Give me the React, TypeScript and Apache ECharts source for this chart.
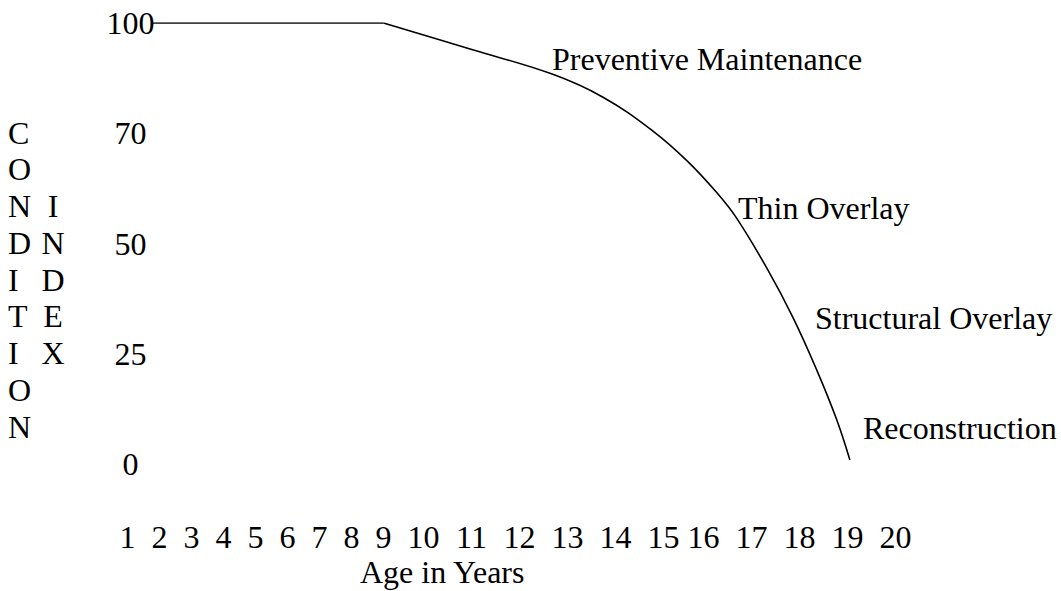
import React, { useEffect, useRef } from "react";
import * as echarts from "echarts";

// ---- data ----
const AGES = [1, 2, 3, 4, 5, 6, 7, 8, 9, 10, 11, 12, 13, 14, 15, 16, 17, 18, 19, 20];
const CONDITION_TICKS = [0, 25, 50, 70, 100];

const FLAT_AGE = [1.8, 9];
const FLAT_CONDITION = [100, 100];

const CURVE_AGE = [9, 10.97, 12.68, 13.74, 14.78, 15.59, 16.28, 16.69, 17.32, 17.87, 18.36, 18.77, 19.05];
const CURVE_CONDITION = [100, 92.9, 86.1, 79.8, 70.6, 65.0, 59.2, 54.6, 44.4, 33.1, 21.3, 10.2, 0.9];

const TREATMENTS = ["Preventive Maintenance", "Thin Overlay", "Structural Overlay", "Reconstruction"];
const Y_TITLE = "CONDITION";
const Y_TITLE_2 = "INDEX";
const X_TITLE = "Age in Years";

// ---- layout (not data): label centres along the age axis, in em, as typed with spaces ----
const AGE_LABEL_EM = [0, 1, 2, 3, 4, 5, 6, 7, 8, 9.25, 10.75, 12.25, 13.75, 15.25, 16.75, 18, 19.5, 21, 22.5, 24];
const TREATMENT_POS = [
  [552, 58.5],
  [738, 207.5],
  [815, 317.5],
  [863, 427.5],
];

const FONT = '"Liberation Serif", "Times New Roman", serif';
const FS = 32;
const ROW = 36.75;

function interp(v: number, from: number[], to: number[]): number {
  if (v <= from[0]) {
    const k = (to[1] - to[0]) / (from[1] - from[0]);
    return to[0] + (v - from[0]) * k;
  }
  for (let i = 0; i < from.length - 1; i++) {
    if (v >= from[i] && v <= from[i + 1]) {
      const t = (v - from[i]) / (from[i + 1] - from[i]);
      return to[i] + t * (to[i + 1] - to[i]);
    }
  }
  const n = from.length - 1;
  const k = (to[n] - to[n - 1]) / (from[n] - from[n - 1]);
  return to[n] + (v - from[n]) * k;
}

const COND_SLOTS = CONDITION_TICKS.map((_, i) => i);
const ageToAxis = (a: number) => interp(a, AGES, AGE_LABEL_EM);
const condToAxis = (c: number) => interp(c, CONDITION_TICKS, COND_SLOTS);

export default function App() {
  const ref = useRef<HTMLDivElement>(null);

  useEffect(() => {
    if (!ref.current) return;
    const chart = echarts.init(ref.current, null, { renderer: "svg" });

    const flat = FLAT_AGE.map((a, i) => [ageToAxis(a), condToAxis(FLAT_CONDITION[i])]);
    const curve = CURVE_AGE.map((a, i) => [ageToAxis(a), condToAxis(CURVE_CONDITION[i])]);

    const textStyle = { fontFamily: FONT, fontSize: FS, color: "#000" };

    const option: any = {
      animation: false,
      backgroundColor: "#fff",
      grid: { left: 127.5, top: 23, width: 768, height: 441, containLabel: false },
      xAxis: {
        type: "value",
        min: 0,
        max: 24,
        axisLine: { show: false },
        axisTick: { show: false },
        splitLine: { show: false },
        axisLabel: {
          customValues: AGE_LABEL_EM,
          ...textStyle,
          margin: 73,
          verticalAlign: "middle",
          hideOverlap: false,
          formatter: (v: number) => {
            const i = AGE_LABEL_EM.findIndex((e) => Math.abs(e - v) < 1e-6);
            return i >= 0 ? String(AGES[i]) : "";
          },
        },
      },
      yAxis: {
        type: "value",
        min: 0,
        max: CONDITION_TICKS.length - 1,
        interval: 1,
        axisLine: { show: false },
        axisTick: { show: false },
        splitLine: { show: false },
        axisLabel: {
          ...textStyle,
          align: "center",
          margin: -3,
          formatter: (v: number) => String(CONDITION_TICKS[Math.round(v)]),
        },
      },
      series: [
        {
          type: "line",
          data: flat,
          showSymbol: false,
          symbol: "none",
          lineStyle: { color: "#000", width: 1.6 },
          silent: true,
        },
        {
          type: "line",
          data: curve,
          smooth: 0.4,
          showSymbol: false,
          symbol: "none",
          lineStyle: { color: "#000", width: 1.6 },
          silent: true,
        },
      ],
      graphic: [
        {
          type: "text",
          x: 8,
          y: 132.5 - ROW / 2,
          style: {
            text: Y_TITLE.split("").join("\n"),
            font: `${FS}px ${FONT}`,
            lineHeight: ROW,
            fill: "#000",
            align: "left",
            verticalAlign: "top",
          },
        },
        {
          type: "text",
          x: 53,
          y: 132.5 - ROW / 2 + 2 * ROW,
          style: {
            text: Y_TITLE_2.split("").join("\n"),
            font: `${FS}px ${FONT}`,
            lineHeight: ROW,
            fill: "#000",
            align: "center",
            verticalAlign: "top",
          },
        },
        ...TREATMENTS.map((t, i) => ({
          type: "text",
          x: TREATMENT_POS[i][0],
          y: TREATMENT_POS[i][1],
          style: {
            text: t,
            font: `${FS}px ${FONT}`,
            fill: "#000",
            align: "left",
            verticalAlign: "middle",
          },
        })),
        {
          type: "text",
          x: 360,
          y: 572,
          style: {
            text: X_TITLE,
            font: `${FS}px ${FONT}`,
            fill: "#000",
            align: "left",
            verticalAlign: "middle",
          },
        },
      ],
    };

    chart.setOption(option);
    return () => chart.dispose();
  }, []);

  return (
    <div
      ref={ref}
      style={{ position: "fixed", left: 0, top: 0, width: 1061, height: 591, background: "#fff" }}
    />
  );
}
